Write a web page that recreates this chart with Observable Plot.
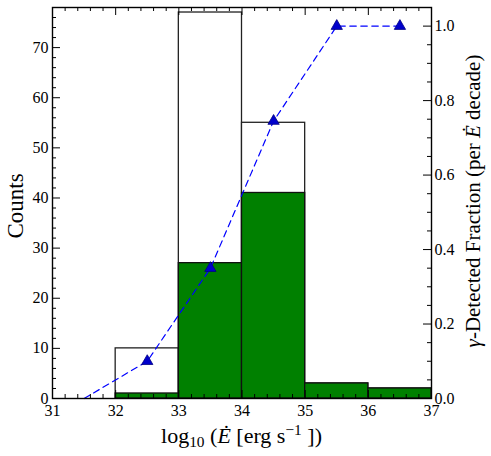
<!DOCTYPE html>
<html><head><meta charset="utf-8">
<script src="https://cdn.jsdelivr.net/npm/d3@7"></script>
<script src="https://cdn.jsdelivr.net/npm/@observablehq/plot@0.6"></script>
<style>
body{margin:0;background:#fff}
svg{display:block}
svg text{font-family:'Liberation Serif','DejaVu Serif',serif !important}
</style>
</head><body><div id="chart"></div>
<script>
const binStarts = [31, 32, 33, 34, 35, 36];
const binWidth = 1;
const totalCounts = [0, 10, 77, 55, 3, 2];
const detectedCounts = [0, 1, 27, 41, 3, 2];
const fracCenters = [31.5, 32.5, 33.5, 34.5, 35.5, 36.5];
const detectedFraction = [0, 0.1, 0.35, 0.745, 1.0, 1.0];
const xTicks = [31, 32, 33, 34, 35, 36, 37];
const countTicks = [0, 10, 20, 30, 40, 50, 60, 70];
const fracTicks = [0, 0.2, 0.4, 0.6, 0.8, 1.0];

const W = 491, H = 456;
const mL = 52, mR = 60, mT = 7, mB = 58;
const fw = W - mL - mR, fh = H - mT - mB;
const countMax = 78, fracMax = 1.05;
const k = countMax / fracMax;
const FONT = "'Liberation Serif', 'DejaVu Serif', serif";

const bins = binStarts.map((b, i) => ({x1: b, x2: b + binWidth, total: totalCounts[i], det: detectedCounts[i]}));
const frac = fracCenters.map((x, i) => ({x, f: detectedFraction[i]}));

const xMinor = d3.range(31, 37.001, 0.2).filter(v => Math.abs(v - Math.round(v)) > 1e-6);
const cMinor = d3.range(0, 78.001, 2).filter(v => v % 10 !== 0);
const fMinor = d3.range(0, 1.0501, 0.05).filter(v => Math.abs(v * 5 - Math.round(v * 5)) > 1e-6);

const tickStroke = {stroke: "#000", strokeWidth: 1};
const txt = {fontSize: 16, fill: "#000"};
const plot = Plot.plot({
  width: W, height: H,
  marginLeft: mL, marginRight: mR, marginTop: mT, marginBottom: mB,
  style: {fontSize: "16px", color: "#000", background: "#fff"},
  x: {domain: [31, 37]},
  y: {domain: [0, countMax]},
  marks: [
    Plot.rect(bins.filter(d => d.total > 0), {x1: "x1", x2: "x2", y1: 0, y2: "total", fill: "#fff", stroke: "#222", strokeWidth: 1.3}),
    Plot.rect(bins.filter(d => d.det > 0), {x1: "x1", x2: "x2", y1: 0, y2: "det", fill: "#008000", stroke: "#111", strokeWidth: 1.3}),
    Plot.line(frac, {x: "x", y: d => d.f * k, stroke: "#0000ff", strokeWidth: 1.2, strokeDasharray: "6.5,4.5"}),
    Plot.dot(frac.filter(d => d.f > 0), {x: "x", y: d => d.f * k, symbol: "triangle", r: 4.2, fill: "#0000cc", stroke: "#000080", strokeWidth: 0.8}),
    // bottom / top ticks
    Plot.tickX(xTicks, {x: d => d, insetTop: fh - 8, ...tickStroke}),
    Plot.tickX(xMinor, {x: d => d, insetTop: fh - 4, ...tickStroke}),
    Plot.tickX(xTicks, {x: d => d, insetBottom: fh - 8, ...tickStroke}),
    Plot.tickX(xMinor, {x: d => d, insetBottom: fh - 4, ...tickStroke}),
    // left ticks
    Plot.tickY(countTicks, {y: d => d, insetRight: fw - 8, ...tickStroke}),
    Plot.tickY(cMinor, {y: d => d, insetRight: fw - 4, ...tickStroke}),
    // right ticks (fraction)
    Plot.tickY(fracTicks, {y: d => d * k, insetLeft: fw - 8, ...tickStroke}),
    Plot.tickY(fMinor, {y: d => d * k, insetLeft: fw - 4, ...tickStroke}),
    Plot.axisX(xTicks, {anchor: "bottom", tickSize: 0, tickPadding: 6, label: null, tickFormat: d => String(d), ...txt}),
    Plot.axisY(countTicks, {anchor: "left", tickSize: 0, tickPadding: 4, label: null, tickFormat: d => String(d), ...txt}),
    Plot.axisY(fracTicks.map(v => v * k), {anchor: "right", tickSize: 0, tickPadding: 3, label: null, tickFormat: d => (d / k).toFixed(1), ...txt}),
    Plot.frame({stroke: "#000", strokeWidth: 1.4})
  ]
});
document.getElementById("chart").appendChild(plot);

const svg = d3.select(plot);
svg.style("font-family", FONT);
svg.selectAll("g").style("font-family", FONT);
svg.selectAll("text").style("font-family", FONT);

const labelSize = 22;
// left label
svg.append("text")
  .attr("transform", `translate(23,206) rotate(-90)`)
  .attr("text-anchor", "middle").style("font-family", FONT).attr("font-size", 23).attr("fill", "#000")
  .text("Counts");
// bottom label
const xl = svg.append("text")
  .attr("x", 241.5).attr("y", 443)
  .attr("text-anchor", "middle").style("font-family", FONT).attr("font-size", labelSize).attr("fill", "#000");
xl.append("tspan").text("log");
xl.append("tspan").attr("font-size", labelSize * 0.7).attr("dy", 4).text("10");
xl.append("tspan").attr("dy", -4).text(" (");
xl.append("tspan").attr("font-style", "italic").text("Ė");
xl.append("tspan").text(" [erg s");
xl.append("tspan").attr("font-size", labelSize * 0.7).attr("dy", -8).text("−1");
xl.append("tspan").attr("dy", 8).text(" ])");
// right label
const rl = svg.append("text")
  .attr("transform", `translate(480,201) rotate(-90)`)
  .attr("text-anchor", "middle").style("font-family", FONT).attr("font-size", 21).attr("fill", "#000");
rl.append("tspan").attr("font-style", "italic").text("γ");
rl.append("tspan").text("-Detected Fraction (per ");
rl.append("tspan").attr("font-style", "italic").text("Ė");
rl.append("tspan").text(" decade)");
</script>
</body></html>
